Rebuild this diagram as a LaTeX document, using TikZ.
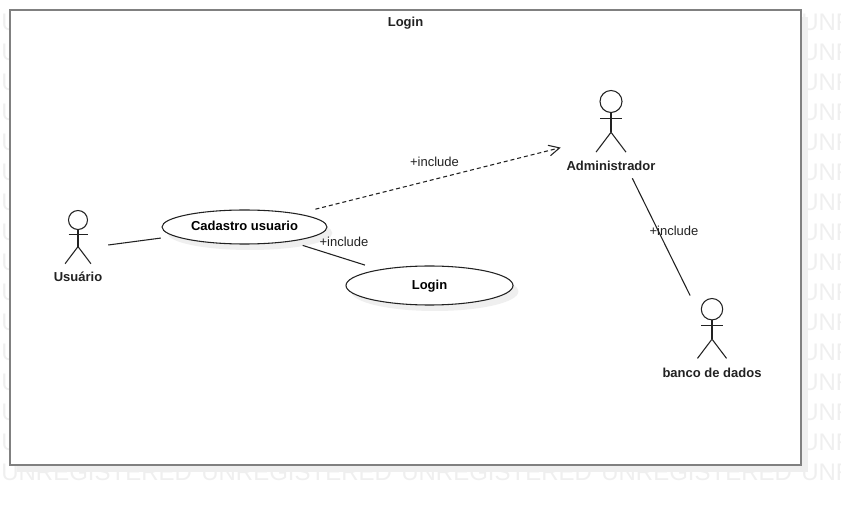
\documentclass[tikz,border=0pt]{standalone}
\usepackage{fontspec}
\setmainfont{Liberation Sans}
\usetikzlibrary{arrows.meta,shadows,shapes.geometric}
\definecolor{framegray}{HTML}{808080}
\definecolor{ink}{HTML}{222222}
\definecolor{stamp}{HTML}{EFEFEF}
\definecolor{shade}{HTML}{EFEFEF}
\tikzset{
  stamptext/.style={anchor=west,inner sep=0pt,text=stamp,font=\fontsize{18pt}{18pt}\selectfont},
  sheet/.style={rectangle,draw=framegray,line width=1.5pt,fill=white,minimum width=593.25pt,minimum height=341.25pt,inner sep=0pt,drop shadow={shadow xshift=5pt,shadow yshift=-5pt,fill=shade,opacity=1}},
  usecase/.style={ellipse,draw=ink,line width=0.8pt,fill=white,inner sep=0pt,text height=7pt,text depth=1.5pt,font=\fontsize{9.75pt}{11pt}\selectfont\bfseries,drop shadow={shadow xshift=4pt,shadow yshift=-4.5pt,fill=shade,opacity=1}},
  actorbox/.style={rectangle,inner sep=0pt},
  actorname/.style={font=\fontsize{9.75pt}{11pt}\selectfont\bfseries,text=ink,inner sep=0pt},
  title/.style={font=\fontsize{9.75pt}{11pt}\selectfont\bfseries,text=ink,inner sep=0pt},
  relname/.style={font=\fontsize{9.75pt}{11pt}\selectfont,text=ink,inner sep=0pt},
  assoc/.style={ink,line width=0.8pt},
  dep/.style={ink,line width=0.8pt,dash pattern=on 3pt off 2.2pt,-{Straight Barb[length=8pt,width=8pt]}}
}
% x, y of the top of the head, head radius
\newcommand{\stickman}[3]{
  \begin{scope}[shift={(#1,#2)},x=#3*0.75pt,y=-#3*0.75pt,ink,line width=0.8pt]
    \draw (0,1) circle (1);
    \draw (0,2) -- (0,3.8);
    \draw (-1,2.55) -- (1,2.55);
    \draw (-1.36,5.6) -- (0,3.8) -- (1.36,5.6);
  \end{scope}
}

\begin{document}
\begin{tikzpicture}[x=0.75pt,y=-0.75pt]
    \useasboundingbox (0,0) rectangle (841,505);
    \clip (0,0) rectangle (841,505);
    \foreach \cx in {0,...,4}
      \foreach \cy in {0,...,15}
        \node[stamptext] (stamp-\cx-\cy) at (1+200*\cx,22+30*\cy) {UNREGISTERED};

    \node[sheet] (frame) at (405.5,237.5) {};
    \node[title] (frametitle) at (405.5,23.5) {Login};

    \node[usecase,minimum width=123.75pt,minimum height=25.5pt] (cadastro) at (244.5,227) {Cadastro usuario};
    \node[usecase,minimum width=125.25pt,minimum height=29.25pt] (login) at (429.5,285.5) {Login};

    \node[actorbox,minimum width=45pt,minimum height=60pt] (usuario) at (78,249) {};
    \stickman{78}{210.5}{9.5}
    \node[actorname] (usuarioname) at (78,277) {Usuário};

    \node[actorbox,minimum width=75pt,minimum height=64.5pt] (admin) at (611,135) {};
    \stickman{611}{90.5}{11}
    \node[actorname] (adminname) at (611,166) {Administrador};

    \node[actorbox,minimum width=75pt,minimum height=64.5pt] (banco) at (712,340) {};
    \stickman{712}{298.5}{10.7}
    \node[actorname] (banconame) at (712,373) {banco de dados};

    \draw[assoc,shorten >=10pt] (usuario) -- (cadastro);
    \draw[assoc,shorten <=9.5pt,shorten >=11pt] (cadastro) -- (login);
    \draw[dep,shorten <=13.5pt] (cadastro) -- (admin);
    \draw[assoc,shorten >=1pt] (admin) -- (banco);

    \node[relname] (includeadmin) at (434.5,162) {+include};
    \node[relname] (includelogin) at (344,242) {+include};
    \node[relname] (includebanco) at (674,231) {+include};
  \end{tikzpicture}
\end{document}
